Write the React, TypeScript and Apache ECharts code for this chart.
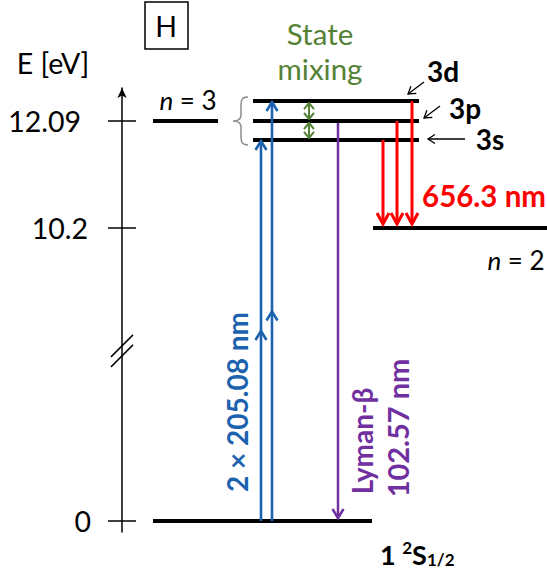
import React, { useEffect, useRef } from 'react';
import * as echarts from 'echarts';

// ---------------- data ----------------
// energy levels of hydrogen (eV); 3s/3p/3d are drawn slightly split (schematic)
const levelIds = ['1s', 'n2', 'n3', '3s', '3p', '3d'];
const levelEnergy = [0, 10.2, 12.09, 11.755, 12.09, 12.443];
// energy axis ticks
const tickEnergies = [0, 10.2, 12.09];
const tickLabels = ['0', '10.2', '12.09'];
// transitions
const transFrom = ['1s', '1s', '3p', '3s', '3p', '3d', '3d', '3p'];
const transTo = ['3s', '3d', '1s', 'n2', 'n2', 'n2', '3p', '3s'];
const transKind = ['twoPhoton', 'twoPhoton', 'lyman', 'balmer', 'balmer', 'balmer', 'mixing', 'mixing'];

// ---------------- layout (pixels) ----------------
const levelXStart = [153, 373, 153, 253, 253, 253];
const levelXEnd = [372, 547, 218, 419, 419, 419];
const transX = [261, 272, 338, 383, 397, 412, 309, 309];

// broken energy axis: upper part linear in eV, everything below the break compressed
const Y_MAX = 12.673;
const Y_MIN = 4.83;
const LOWER_ORIGIN = 5.024;
const BREAK_AT = 8.03;
const toAxis = (e: number) => (e > 5 ? e : LOWER_ORIGIN + e * 0.3);

const FONT = 'Lato';
const BLUE = '#1C62AE';
const PURPLE = '#7030A0';
const RED = '#FF0000';
const GREEN = '#548235';

const kindNames = ['twoPhoton', 'lyman', 'balmer', 'mixing'];
const kindStyles = [
  { color: BLUE, width: 2.6, len: 9, w: 5.5, startGap: 0, endGap: 1, mid: true, dbl: false },
  { color: PURPLE, width: 2.5, len: 9, w: 5.5, startGap: 2, endGap: 3, mid: false, dbl: false },
  { color: RED, width: 3, len: 11, w: 6, startGap: 0, endGap: 4, mid: false, dbl: false },
  { color: GREEN, width: 2, len: 6, w: 5, startGap: 2, endGap: 2, mid: false, dbl: true },
];

echarts.graphic.registerShape(
  'brace',
  echarts.graphic.extendPath(
    'M15,0 C9,0 8,3 8,8 L8,18 C8,22 6,24 0,24 C6,24 8,26 8,30 L8,40 C8,45 9,48 15,48',
    {}
  )
);

const levelData = levelIds.map((_, i) => [levelXStart[i], levelXEnd[i], toAxis(levelEnergy[i])]);
const transData = transFrom.map((f, i) => [
  transX[i],
  toAxis(levelEnergy[levelIds.indexOf(f)]),
  toAxis(levelEnergy[levelIds.indexOf(transTo[i])]),
  kindNames.indexOf(transKind[i]),
]);
const tickDisplay = tickEnergies.map(toAxis);

function text(t: string, x: number, y: number, o: any = {}) {
  return {
    type: 'text',
    x,
    y,
    rotation: o.rotation || 0,
    style: {
      text: t,
      fill: o.color || '#000',
      fontSize: o.size || 28.5,
      fontFamily: FONT,
      fontWeight: o.bold ? 'bold' : 'normal',
      fontStyle: o.italic ? 'italic' : 'normal',
      align: o.align || 'center',
      verticalAlign: 'middle',
      rich: o.rich,
    },
  };
}

function pointer(x1: number, y1: number, x2: number, y2: number) {
  const dx = x2 - x1, dy = y2 - y1;
  const L = Math.hypot(dx, dy);
  const ux = dx / L, uy = dy / L;
  const len = 7, w = 4.5;
  return [
    { type: 'line', shape: { x1, y1, x2, y2 }, style: { stroke: '#000', lineWidth: 1.3 } },
    {
      type: 'polyline',
      shape: {
        points: [
          [x2 - ux * len - uy * w, y2 - uy * len + ux * w],
          [x2, y2],
          [x2 - ux * len + uy * w, y2 - uy * len - ux * w],
        ],
      },
      style: { stroke: '#000', lineWidth: 1.3, fill: 'none' },
    },
  ];
}

export default function App() {
  const ref = useRef<HTMLDivElement>(null);
  useEffect(() => {
    const chart = echarts.init(ref.current!, null, { renderer: 'svg' });
    const option: any = {
      animation: false,
      backgroundColor: '#fff',
      grid: { left: 122, right: 0, top: 88, bottom: 46 },
      xAxis: { type: 'value', min: 122, max: 547, show: false },
      yAxis: [
        {
          type: 'value',
          min: Y_MIN,
          max: Y_MAX,
          position: 'left',
          axisLine: {
            show: true,
            lineStyle: { color: '#000', width: 1.5 },
            symbol: ['none', 'arrow'],
            symbolSize: [7, 10],
          },
          axisTick: { show: true, customValues: tickDisplay, length: 14, lineStyle: { color: '#000', width: 1.5 } },
          axisLabel: {
            show: true,
            customValues: tickDisplay,
            margin: 31,
            formatter: (v: number) => {
              let best = 0;
              tickDisplay.forEach((d, i) => {
                if (Math.abs(d - v) < Math.abs(tickDisplay[best] - v)) best = i;
              });
              return `{t${best}|${tickLabels[best]}}`;
            },
            rich: {
              t0: { fontSize: 28.5, fontFamily: FONT, color: '#000', padding: [0, 0, 0, 0] },
              t1: { fontSize: 28.5, fontFamily: FONT, color: '#000', padding: [0, 3, 0, 0] },
              t2: { fontSize: 28.5, fontFamily: FONT, color: '#000', padding: [0, 10, 0, 0] },
            },
          },
          splitLine: { show: false },
        },
        {
          type: 'value',
          min: Y_MIN,
          max: Y_MAX,
          position: 'left',
          axisLine: { show: false },
          axisTick: { show: true, inside: true, customValues: tickDisplay, length: 14, lineStyle: { color: '#000', width: 1.5 } },
          axisLabel: { show: false },
          splitLine: { show: false },
        },
      ],
      series: [
        {
          type: 'custom',
          name: 'levels',
          coordinateSystem: 'cartesian2d',
          clip: false,
          data: levelData,
          renderItem: (_p: any, api: any) => {
            const a = api.coord([api.value(0), api.value(2)]);
            const b = api.coord([api.value(1), api.value(2)]);
            return {
              type: 'line',
              shape: { x1: a[0], y1: a[1], x2: b[0], y2: b[1] },
              style: { stroke: '#000', lineWidth: 4 },
            };
          },
        },
        {
          type: 'custom',
          name: 'transitions',
          coordinateSystem: 'cartesian2d',
          clip: false,
          data: transData,
          renderItem: (_p: any, api: any) => {
            const st = kindStyles[api.value(3)];
            const p0 = api.coord([api.value(0), api.value(1)]);
            const p1 = api.coord([api.value(0), api.value(2)]);
            const x = p0[0];
            const dir = Math.sign(p1[1] - p0[1]);
            const sy = p0[1] + dir * st.startGap;
            const ey = p1[1] - dir * st.endGap;
            const head = (tip: number, d: number) => ({
              type: 'polyline',
              shape: { points: [[x - st.w, tip - d * st.len], [x, tip], [x + st.w, tip - d * st.len]] },
              style: { stroke: st.color, lineWidth: st.width, fill: 'none' },
            });
            const children: any[] = [
              { type: 'line', shape: { x1: x, y1: sy, x2: x, y2: ey }, style: { stroke: st.color, lineWidth: st.width } },
              head(ey, dir),
            ];
            if (st.mid) children.push(head((sy + ey) / 2, dir));
            if (st.dbl) children.push(head(sy, -dir));
            return { type: 'group', children };
          },
        },
        {
          type: 'custom',
          name: 'axis break',
          coordinateSystem: 'cartesian2d',
          clip: false,
          data: [[122, BREAK_AT]],
          renderItem: (_p: any, api: any) => {
            const c = api.coord([api.value(0), api.value(1)]);
            const mk = (off: number) => ({
              type: 'line',
              shape: { x1: c[0] - 11, y1: c[1] + 11 + off, x2: c[0] + 11, y2: c[1] - 11 + off },
              style: { stroke: '#000', lineWidth: 1.5 },
            });
            return { type: 'group', children: [mk(-5), mk(5)] };
          },
        },
      ],
      graphic: [
        text('E [eV]', 53, 63),
        { type: 'rect', shape: { x: 145, y: 2, width: 43, height: 47 }, style: { fill: 'none', stroke: '#000', lineWidth: 1.5 } },
        text('H', 166, 26),
        text('State', 320, 33, { color: GREEN, size: 29.5 }),
        text('mixing', 320, 68, { color: GREEN, size: 29.5 }),
        text('{i|n} = 3', 188, 100, { size: 26, rich: { i: { fontStyle: 'italic', fontSize: 26, fontFamily: FONT } } }),
        text('{i|n} = 2', 516, 260, { size: 26, rich: { i: { fontStyle: 'italic', fontSize: 26, fontFamily: FONT } } }),
        { type: 'brace', x: 233, y: 97, style: { stroke: '#8c8c8c', lineWidth: 1.5, fill: 'none' } },
        text('3d', 443, 71, { bold: true, size: 28 }),
        text('3p', 465, 108, { bold: true, size: 28 }),
        text('3s', 490, 139, { bold: true, size: 28 }),
        ...pointer(424, 82, 408, 94),
        ...pointer(440, 106, 424, 118),
        ...pointer(465, 139, 428, 139),
        text('656.3 nm', 484, 195, { bold: true, color: RED, size: 29.5 }),
        text('2 × 205.08 nm', 237, 402, { bold: true, color: BLUE, rotation: Math.PI / 2, size: 28 }),
        text('Lyman-β', 362, 441, { bold: true, color: PURPLE, rotation: Math.PI / 2, size: 28 }),
        text('102.57 nm', 397, 428, { bold: true, color: PURPLE, rotation: Math.PI / 2, size: 29 }),
        text('{b|1 }{sup|2}{b|S}{sub|1/2}', 380, 553, {
          bold: true,
          align: 'left',
          rich: {
            b: { fontSize: 27, fontFamily: FONT, fontWeight: 'bold', lineHeight: 30, verticalAlign: 'bottom' },
            sup: { fontSize: 17, fontFamily: FONT, fontWeight: 'bold', lineHeight: 14, verticalAlign: 'bottom', padding: [0, 0, 12, 0] },
            sub: { fontSize: 17, fontFamily: FONT, fontWeight: 'bold', lineHeight: 14, verticalAlign: 'bottom' },
          },
        }),
      ],
    };
    chart.setOption(option);
    return () => chart.dispose();
  }, []);
  return (
    <div
      ref={ref}
      style={{ position: 'absolute', left: 0, top: 0, width: 547, height: 578, background: '#fff' }}
    />
  );
}
